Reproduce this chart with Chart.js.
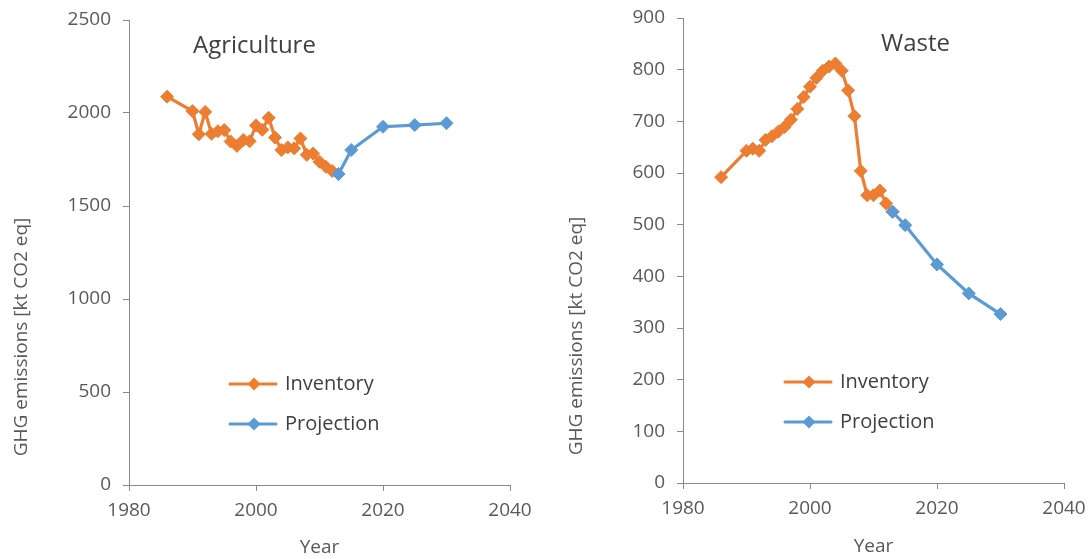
<!DOCTYPE html>
<html>
<head>
<meta charset="utf-8">
<script src="https://cdn.jsdelivr.net/npm/chart.js@4/dist/chart.umd.min.js"></script>
<style>
  html, body { margin: 0; padding: 0; background: #ffffff; overflow: hidden; }
  #wrap { position: relative; width: 1091px; height: 559px; }
  canvas { position: absolute; top: 0; }
  #agri { left: 0; }
  #waste { left: 545px; }
</style>
</head>
<body>
<div id="wrap">
  <canvas id="agri" width="545" height="559"></canvas>
  <canvas id="waste" width="546" height="559"></canvas>
</div>
<script>
// Agriculture emissions (kt CO2 eq)
const agriInvYears = [1986, 1990, 1991, 1992, 1993, 1994, 1995, 1996, 1997, 1998, 1999, 2000, 2001, 2002, 2003, 2004, 2005, 2006, 2007, 2008, 2009, 2010, 2011, 2012, 2013];
const agriInventory = [2088, 2010, 1886, 2006, 1888, 1902, 1908, 1847, 1823, 1855, 1848, 1933, 1910, 1974, 1868, 1801, 1815, 1810, 1863, 1775, 1782, 1738, 1711, 1688, 1672];
const agriProjYears = [2013, 2015, 2020, 2025, 2030];
const agriProjection = [1672, 1801, 1926, 1935, 1945];

// Waste emissions (kt CO2 eq)
const wasteInvYears = [1986, 1990, 1991, 1992, 1993, 1994, 1995, 1996, 1997, 1998, 1999, 2000, 2001, 2002, 2003, 2004, 2005, 2006, 2007, 2008, 2009, 2010, 2011, 2012, 2013];
const wasteInventory = [592, 643, 647, 643, 664, 671, 680, 689, 703, 724, 747, 767, 784, 798, 806, 812, 798, 760, 710, 604, 557, 557, 566, 541, 525];
const wasteProjYears = [2013, 2015, 2020, 2025, 2030];
const wasteProjection = [525, 499, 423, 367, 327];

// Axis ticks
const xTicks = [1980, 2000, 2020, 2040];
const agriYTicks = [0, 500, 1000, 1500, 2000, 2500];
const wasteYTicks = [0, 100, 200, 300, 400, 500, 600, 700, 800, 900];

const seriesNames = ['Inventory', 'Projection'];
const ORANGE = '#ED7D31';
const BLUE = '#5B9BD5';
const FONT = '"Open Sans", "DejaVu Sans", sans-serif';
const TEXT = '#595959';
const AXIS = '#898989';

function pts(xs, ys) { return xs.map((x, i) => ({ x: x, y: ys[i] })); }

function diamond(ctx, x, y, r, color) {
  ctx.beginPath();
  ctx.moveTo(x - r, y); ctx.lineTo(x, y - r); ctx.lineTo(x + r, y); ctx.lineTo(x, y + r);
  ctx.closePath();
  ctx.fillStyle = color; ctx.fill();
}

// Titles, legend and axis titles drawn at fixed spots on each canvas
const decor = {
  id: 'decor',
  afterDraw(chart, args, o) {
    const ctx = chart.ctx;
    const area = chart.chartArea;
    ctx.save();
    // panel title
    ctx.fillStyle = '#404040';
    ctx.font = '24px ' + FONT;
    ctx.textAlign = 'left';
    ctx.textBaseline = 'alphabetic';
    ctx.fillText(o.title, o.titleX, o.titleY);
    // legend
    ctx.font = '20px ' + FONT;
    ctx.textBaseline = 'middle';
    const colors = [ORANGE, BLUE];
    seriesNames.forEach((name, i) => {
      const y = o.legendY + i * 40;
      ctx.strokeStyle = colors[i];
      ctx.lineWidth = 3;
      ctx.lineCap = 'round';
      ctx.beginPath(); ctx.moveTo(o.legendX, y); ctx.lineTo(o.legendX + 46, y); ctx.stroke();
      diamond(ctx, o.legendX + 24, y, 6.5, colors[i]);
      ctx.fillStyle = '#404040';
      ctx.fillText(name, o.legendX + 55, y);
    });
    // axis titles
    ctx.fillStyle = TEXT;
    ctx.font = '19px ' + FONT;
    ctx.textAlign = 'center';
    ctx.textBaseline = 'middle';
    ctx.fillText('Year', (area.left + area.right) / 2, o.yearY);
    ctx.translate(o.yTitleX, o.yTitleY);
    ctx.rotate(-Math.PI / 2);
    ctx.fillText('GHG emissions [kt CO2 eq]', 0, 0);
    ctx.restore();
  }
};

function makeChart(id, inv, proj, yTicks, yMax, box, deco) {
  return new Chart(document.getElementById(id), {
    type: 'line',
    data: {
      datasets: [
        { label: seriesNames[0], data: inv, borderColor: ORANGE, backgroundColor: ORANGE,
          borderWidth: 3.2, pointStyle: 'rectRot', pointRadius: 6.5, pointBorderWidth: 1,
          pointBackgroundColor: ORANGE, pointBorderColor: ORANGE, tension: 0, order: 2 },
        { label: seriesNames[1], data: proj, borderColor: BLUE, backgroundColor: BLUE,
          borderWidth: 3.2, pointStyle: 'rectRot', pointRadius: 6.5, pointBorderWidth: 1,
          pointBackgroundColor: BLUE, pointBorderColor: BLUE, tension: 0, order: 1 }
      ]
    },
    options: {
      responsive: false,
      animation: false,
      devicePixelRatio: 1,
      layout: { padding: { top: box.top, right: box.right, left: 0, bottom: 0 } },
      plugins: { legend: { display: false }, tooltip: { enabled: false }, decor: deco },
      scales: {
        x: {
          type: 'linear', min: xTicks[0], max: xTicks[xTicks.length - 1],
          afterBuildTicks: s => { s.ticks = xTicks.map(v => ({ value: v })); },
          afterFit: s => { s.height = box.xHeight; s.paddingLeft = 0; s.paddingRight = 0; },
          grid: { drawOnChartArea: false, drawTicks: true, tickLength: 6, color: AXIS },
          border: { color: AXIS, width: 1 },
          ticks: { color: TEXT, font: { family: FONT, size: 19 }, padding: 8, maxRotation: 0,
                   callback: v => String(v) }
        },
        y: {
          type: 'linear', min: 0, max: yMax,
          afterBuildTicks: s => { s.ticks = yTicks.map(v => ({ value: v })); },
          afterFit: s => { s.width = box.yWidth; s.paddingTop = 0; s.paddingBottom = 0; },
          grid: { drawOnChartArea: false, drawTicks: true, tickLength: 6, color: AXIS },
          border: { color: AXIS, width: 1 },
          ticks: { color: TEXT, font: { family: FONT, size: 19 }, padding: 12,
                   callback: v => String(v) }
        }
      }
    },
    plugins: [decor]
  });
}

makeChart('agri', pts(agriInvYears, agriInventory), pts(agriProjYears, agriProjection),
  agriYTicks, 2500,
  { top: 20, right: 35, xHeight: 74, yWidth: 129 },
  { title: 'Agriculture', titleX: 193, titleY: 53, legendX: 230, legendY: 384,
    yTitleX: 22, yTitleY: 337, yearY: 548 });

makeChart('waste', pts(wasteInvYears, wasteInventory), pts(wasteProjYears, wasteProjection),
  wasteYTicks, 900,
  { top: 18, right: 27, xHeight: 76, yWidth: 138 },
  { title: 'Waste', titleX: 336, titleY: 51, legendX: 240, legendY: 382,
    yTitleX: 32, yTitleY: 336, yearY: 547 });
</script>
</body>
</html>
